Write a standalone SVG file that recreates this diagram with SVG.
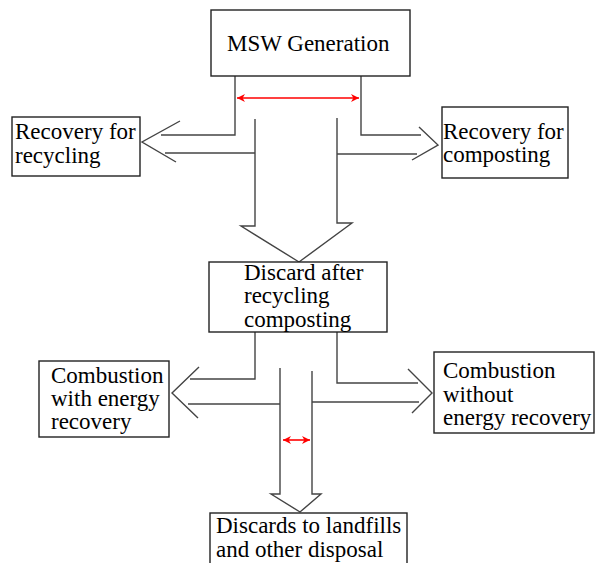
<svg xmlns="http://www.w3.org/2000/svg" width="595" height="563" viewBox="0 0 595 563">
<defs>
<style>
.box{fill:#fff;stroke:#222;stroke-width:1.4}
.ln{fill:none;stroke:#444;stroke-width:1.4}
.red{fill:none;stroke:#f00;stroke-width:1.6}
text{font-family:"Liberation Serif","Times New Roman",serif;font-size:23px;fill:#000}
</style>
<marker id="ah" viewBox="0 0 10 10" refX="10" refY="5" markerWidth="6" markerHeight="5" markerUnits="strokeWidth" orient="auto-start-reverse">
<path d="M0,0 L10,5 L0,10 L3,5 Z" fill="#f00"/>
</marker>
</defs>
<rect width="595" height="563" fill="#fff"/>
<g id="connectors">
<polyline class="ln" points="235,76 235,135 161,135"/>
<polyline class="ln" points="180,121 142,142 176,162"/>
<polyline class="ln" points="165,153 255,153"/>
<polyline class="ln" points="255,119 255,226 241,226 299,262 352,223 337,223 337,118"/>
<polyline class="ln" points="361,76 361,135 421,135"/>
<polyline class="ln" points="419,127 438,145 412,160"/>
<polyline class="ln" points="337,154 417,154"/>
<line class="red" x1="237" y1="98" x2="359" y2="98" marker-start="url(#ah)" marker-end="url(#ah)"/>
<polyline class="ln" points="255,332 255,379 190,379"/>
<polyline class="ln" points="199,367 172,393 198,418"/>
<polyline class="ln" points="188,404 280,404"/>
<polyline class="ln" points="280,368 280,494 271,494 300,512 321,494 312,494 312,371"/>
<polyline class="ln" points="337,332 337,383 418,383"/>
<polyline class="ln" points="408,369 432,393 412,413"/>
<polyline class="ln" points="312,402 419,402"/>
<line class="red" x1="283" y1="440" x2="310" y2="440" marker-start="url(#ah)" marker-end="url(#ah)"/>
</g>
<g id="msw">
<rect class="box" x="211" y="10" width="199" height="66"/>
<text x="227" y="51">MSW Generation</text>
</g>
<g id="recycling">
<rect class="box" x="12" y="117" width="128" height="59"/>
<text x="15" y="139">Recovery for</text>
<text x="15" y="163">recycling</text>
</g>
<g id="composting">
<rect class="box" x="442" y="107" width="126" height="71"/>
<text x="443" y="139">Recovery for</text>
<text x="443" y="162">composting</text>
</g>
<g id="discard">
<rect class="box" x="209" y="262" width="178" height="70"/>
<text x="244" y="280">Discard after</text>
<text x="244" y="303">recycling</text>
<text x="244" y="327">composting</text>
</g>
<g id="comb-with">
<rect class="box" x="39" y="361" width="130" height="76"/>
<text x="51" y="383">Combustion</text>
<text x="51" y="406">with energy</text>
<text x="51" y="429">recovery</text>
</g>
<g id="comb-without">
<rect class="box" x="434" y="352" width="160" height="81"/>
<text x="443" y="378">Combustion</text>
<text x="443" y="402">without</text>
<text x="443" y="425">energy recovery</text>
</g>
<g id="landfill">
<rect class="box" x="210" y="513" width="197" height="60"/>
<text x="216" y="533">Discards to landfills</text>
<text x="216" y="557">and other disposal</text>
</g>
</svg>
